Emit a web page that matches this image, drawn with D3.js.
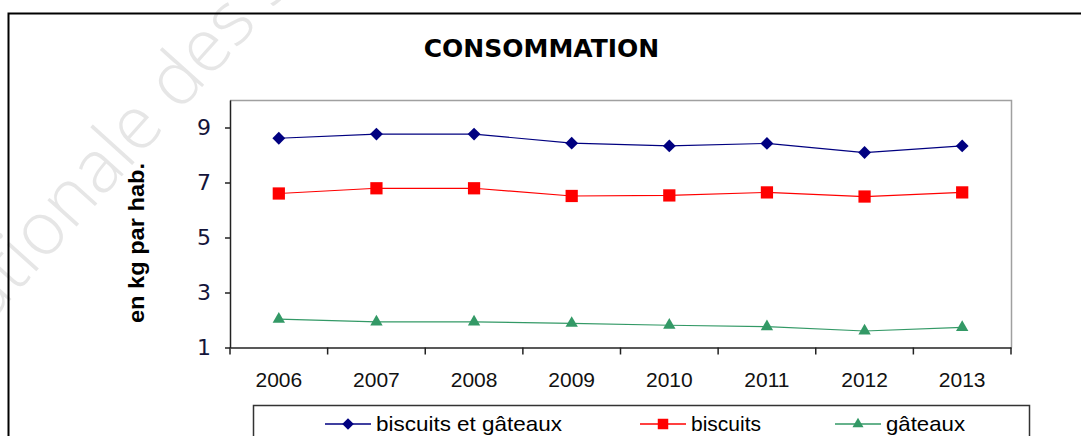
<!DOCTYPE html>
<html>
<head>
<meta charset="utf-8">
<script src="https://cdn.jsdelivr.net/npm/d3@7"></script>
<style>
  body { margin: 0; background: #fff; }
  svg { display: block; }
</style>
</head>
<body>
<svg width="1081" height="436"></svg>
<script>
// data
var years = ["2006", "2007", "2008", "2009", "2010", "2011", "2012", "2013"];
var biscuitsEtGateaux = [8.61, 8.76, 8.76, 8.43, 8.33, 8.42, 8.09, 8.33];
var biscuits = [6.60, 6.79, 6.79, 6.51, 6.53, 6.64, 6.49, 6.64];
var gateaux = [2.03, 1.93, 1.93, 1.88, 1.81, 1.76, 1.60, 1.73];
var yTicks = [1, 3, 5, 7, 9];
var seriesNames = ["biscuits et gâteaux", "biscuits", "gâteaux"];

var svg = d3.select("svg"),
    margin = { top: 100, right: 70, bottom: 88.5, left: 230 },
    width = +svg.attr("width") - margin.left - margin.right,
    height = +svg.attr("height") - margin.top - margin.bottom;

var series = [
    { name: seriesNames[0], values: biscuitsEtGateaux, color: "#000080", symbol: d3.symbolDiamond2, size: 105 },
    { name: seriesNames[1], values: biscuits, color: "#ff0000", symbol: d3.symbolSquare, size: 150 },
    { name: seriesNames[2], values: gateaux, color: "#339966", symbol: d3.symbolTriangle, size: 66 }
];

/* ==================== WATERMARK ==================== */
svg.append("text")
    .attr("transform", "translate(-40,356) rotate(-48)")
    .attr("font-family", "Open Sans")
    .attr("font-weight", 300)
    .attr("font-size", 74)
    .attr("fill", "#e6e6e6")
    .text("nationale des Sciences");

// outer frame (runs off the right and bottom of the picture)
svg.append("rect")
    .attr("x", 8.5).attr("y", 13.5)
    .attr("width", 1100).attr("height", 500)
    .attr("fill", "none")
    .attr("stroke", "#000")
    .attr("stroke-width", 2);

// title
svg.append("text")
    .attr("x", 541.5).attr("y", 57)
    .attr("text-anchor", "middle")
    .attr("font-family", "DejaVu Sans")
    .attr("font-weight", "bold")
    .attr("font-size", 25)
    .attr("fill", "#000")
    .text("CONSOMMATION");

var g = svg.append("g").attr("transform", "translate(" + margin.left + "," + margin.top + ")");

var xBand = d3.scaleBand().domain(years).range([0, width]);
var x = d3.scalePoint().domain(years).range([0, width]).padding(0.5);
var y = d3.scaleLinear().domain([1, 10]).range([height, 0]);

// plot area frame (top and right in grey)
g.append("path")
    .attr("d", "M0,0.5H" + (width + 0.5) + "V" + height)
    .attr("fill", "none")
    .attr("stroke", "#a0a0a0")
    .attr("stroke-width", 1.5);

/* ==================== AXES ==================== */
var yAxis = g.append("g")
    .call(d3.axisLeft(y).tickValues(yTicks).tickSize(5).tickPadding(14).tickSizeOuter(0));
yAxis.select(".domain").attr("stroke", "#222").attr("stroke-width", 1.5);
yAxis.selectAll(".tick line").attr("stroke", "#222").attr("stroke-width", 1.5);
yAxis.selectAll("text")
    .attr("font-family", "DejaVu Sans")
    .attr("font-size", 22)
    .attr("fill", "#14143a");

var xAxis = g.append("g")
    .attr("transform", "translate(0," + height + ")")
    .call(d3.axisBottom(xBand).tickSize(0).tickPadding(25).tickSizeOuter(0));
xAxis.select(".domain").attr("stroke", "#222").attr("stroke-width", 1.5);
xAxis.selectAll("text")
    .attr("font-family", "Liberation Sans")
    .attr("font-size", 21)
    .attr("fill", "#111");

// x tick marks sit on the band boundaries
xAxis.selectAll(".bound")
    .data(years.concat(["end"]))
    .enter().append("line")
    .attr("class", "bound")
    .attr("x1", function(d) { return d === "end" ? width : xBand(d); })
    .attr("x2", function(d) { return d === "end" ? width : xBand(d); })
    .attr("y1", 0).attr("y2", 7)
    .attr("stroke", "#222")
    .attr("stroke-width", 1.5);

// y axis title
svg.append("text")
    .attr("transform", "translate(144,243) rotate(-90)")
    .attr("text-anchor", "middle")
    .attr("font-family", "Liberation Sans")
    .attr("font-weight", "bold")
    .attr("font-size", 22)
    .attr("textLength", 160)
    .attr("lengthAdjust", "spacingAndGlyphs")
    .attr("fill", "#000")
    .text("en kg par hab.");

/* ==================== LINES ==================== */
var line = d3.line()
    .x(function(d, i) { return x(years[i]); })
    .y(function(d) { return y(d); });

series.forEach(function(s, k) {
    g.append("path")
        .datum(s.values)
        .attr("d", line)
        .attr("fill", "none")
        .attr("stroke", s.color)
        .attr("stroke-width", 1.2);

    g.selectAll(".pt" + k)
        .data(s.values)
        .enter().append("path")
        .attr("class", "pt" + k)
        .attr("transform", function(d, i) {
            return "translate(" + x(years[i]) + "," + y(d) + ")";
        })
        .attr("d", d3.symbol().type(s.symbol).size(s.size))
        .attr("fill", s.color);
});

/* ==================== LEGEND ==================== */
svg.append("rect")
    .attr("x", 253.5).attr("y", 405.5)
    .attr("width", 776).attr("height", 60)
    .attr("fill", "#fff")
    .attr("stroke", "#333")
    .attr("stroke-width", 1.5);

var legendX = [325, 640, 835];
var legendTextW = [186, 70, 79];

var legend = svg.selectAll(".legend")
    .data(series)
    .enter().append("g")
    .attr("class", "legend")
    .attr("transform", function(d, i) { return "translate(" + legendX[i] + ",424)"; });

legend.append("line")
    .attr("x1", 0).attr("x2", 46)
    .attr("stroke", function(d) { return d.color; })
    .attr("stroke-width", 1.5);

legend.append("path")
    .attr("transform", "translate(23,0)")
    .attr("d", function(d) {
        return d3.symbol().type(d.symbol).size(d.symbol === d3.symbolSquare ? 110 : d.size * 0.8)();
    })
    .attr("fill", function(d) { return d.color; });

legend.append("text")
    .attr("x", 51).attr("y", 7)
    .attr("font-family", "Liberation Sans")
    .attr("font-size", 21)
    .attr("textLength", function(d, i) { return legendTextW[i]; })
    .attr("lengthAdjust", "spacingAndGlyphs")
    .attr("fill", "#000")
    .text(function(d) { return d.name; });
</script>
</body>
</html>
